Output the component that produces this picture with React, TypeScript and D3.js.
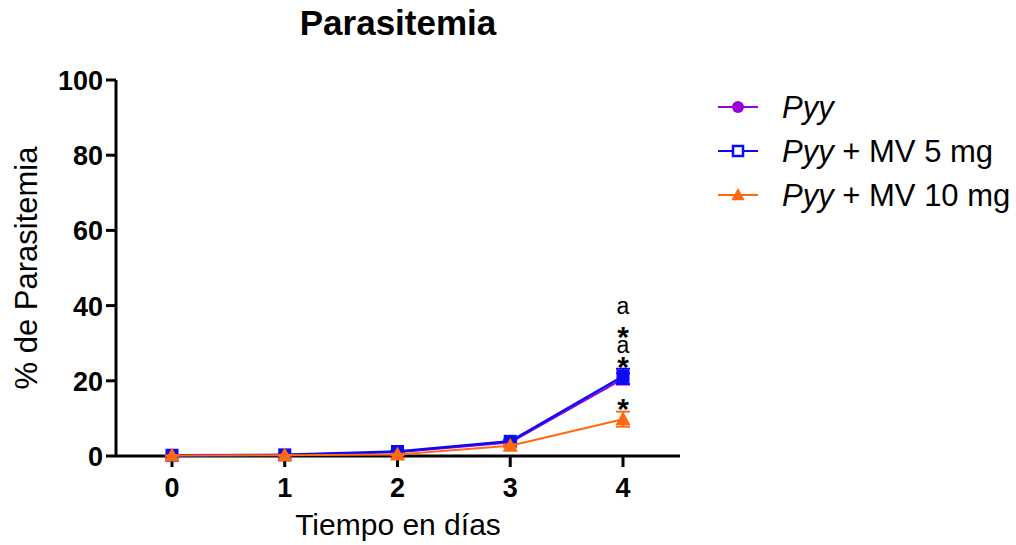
import React from "react";
import * as d3 from "d3";

const days = [0, 1, 2, 3, 4];
const pyy = [0.2, 0.3, 1.0, 3.6, 20.5];
const pyyErr = [0.1, 0.1, 0.3, 0.5, 1.5];
const mv5 = [0.2, 0.3, 1.2, 3.9, 21.2];
const mv5Err = [0.1, 0.1, 0.3, 0.5, 2.0];
const mv10 = [0.1, 0.2, 0.4, 2.7, 9.8];
const mv10Err = [0.05, 0.1, 0.2, 0.4, 2.0];
const yTicks = [0, 20, 40, 60, 80, 100];
// marks stacked above the 5 mg error bar at day 4, bottom to top
const annotations = ["*", "a", "*", "a"];

const PURPLE = "#9b00d9";
const BLUE = "#0a0af5";
const ORANGE = "#ff6a10";

export default function App() {
  const x = d3.scaleLinear().domain([0, 4]).range([172, 623]);
  const y = d3.scaleLinear().domain([0, 100]).range([456, 80]);
  const line = d3
    .line<number>()
    .x((_, i) => x(days[i]))
    .y((d) => y(d));
  const font = "Arial, 'Liberation Sans', sans-serif";

  const errBars = (vals: number[], errs: number[], color: string) =>
    vals.map((v, i) => (
      <g key={i} stroke={color} strokeWidth={2}>
        <line x1={x(days[i])} x2={x(days[i])} y1={y(v + errs[i])} y2={y(v - errs[i])} />
        <line x1={x(days[i]) - 7} x2={x(days[i]) + 7} y1={y(v + errs[i])} y2={y(v + errs[i])} />
        <line x1={x(days[i]) - 7} x2={x(days[i]) + 7} y1={y(v - errs[i])} y2={y(v - errs[i])} />
      </g>
    ));

  const tri = (cx: number, cy: number, s: number) =>
    `M${cx},${cy - s} L${cx + s * 0.95},${cy + s * 0.75} L${cx - s * 0.95},${cy + s * 0.75} Z`;

  const legendRows = [
    { color: PURPLE, shape: "circle", rest: "" },
    { color: BLUE, shape: "square", rest: " + MV 5 mg" },
    { color: ORANGE, shape: "triangle", rest: " + MV 10 mg" },
  ];

  const x4 = x(4);
  const top5 = y(mv5[4] + mv5Err[4]);
  const top10 = y(mv10[4] + mv10Err[4]);
  const starFs = 30;
  const aFs = 23;
  // centre of each mark relative to the error bar top
  const markCentre = [-9, -22, -39, -61];
  const baselineFor = (a: string, c: number) =>
    a === "*" ? c + 0.56 * starFs : c + 0.26 * aFs;

  return (
    <svg
      width={1016}
      height={545}
      style={{ position: "absolute", left: 0, top: 0, display: "block" }}
      fontFamily={font}
    >
      <text x={398} y={35} textAnchor="middle" fontSize={35} fontWeight="bold">
        Parasitemia
      </text>

      {/* axes */}
      <g stroke="#000" strokeWidth={3}>
        <line x1={116} x2={116} y1={y(100)} y2={y(0)} />
        <line x1={116} x2={680} y1={y(0)} y2={y(0)} />
        {yTicks.map((t) => (
          <line key={t} x1={106} x2={116} y1={y(t)} y2={y(t)} />
        ))}
        {days.map((d) => (
          <line key={d} x1={x(d)} x2={x(d)} y1={y(0)} y2={y(0) + 11} />
        ))}
      </g>
      {yTicks.map((t) => (
        <text key={t} x={103} y={y(t) + 10} textAnchor="end" fontSize={27} fontWeight="bold">
          {t}
        </text>
      ))}
      {days.map((d) => (
        <text key={d} x={x(d)} y={y(0) + 41} textAnchor="middle" fontSize={27} fontWeight="bold">
          {d}
        </text>
      ))}
      <text x={398} y={535} textAnchor="middle" fontSize={30}>
        Tiempo en días
      </text>
      <text transform={`translate(37,${y(50)}) rotate(-90)`} textAnchor="middle" fontSize={31}>
        % de Parasitemia
      </text>

      {/* series */}
      {errBars(pyy, pyyErr, PURPLE)}
      <path d={line(pyy) || ""} fill="none" stroke={PURPLE} strokeWidth={2} />
      {pyy.map((v, i) => (
        <circle key={i} cx={x(days[i])} cy={y(v)} r={6} fill={PURPLE} />
      ))}

      {errBars(mv5, mv5Err, BLUE)}
      <path d={line(mv5) || ""} fill="none" stroke={BLUE} strokeWidth={2.5} />
      {mv5.map((v, i) => (
        <rect key={i} x={x(days[i]) - 6.5} y={y(v) - 6.5} width={13} height={13} fill={BLUE} />
      ))}

      {errBars(mv10, mv10Err, ORANGE)}
      <path d={line(mv10) || ""} fill="none" stroke={ORANGE} strokeWidth={2} />
      {mv10.map((v, i) => (
        <path key={i} d={tri(x(days[i]), y(v), 8)} fill={ORANGE} />
      ))}

      {/* significance marks at day 4 */}
      <text x={x4} y={baselineFor("*", top10 - 9)} textAnchor="middle" fontSize={starFs} fontWeight="bold">
        *
      </text>
      {annotations.map((a, i) => (
        <text
          key={i}
          x={x4}
          y={baselineFor(a, top5 + markCentre[i])}
          textAnchor="middle"
          fontSize={a === "*" ? starFs : aFs}
          fontWeight={a === "*" ? "bold" : "normal"}
        >
          {a}
        </text>
      ))}

      {/* legend */}
      {legendRows.map((r, i) => {
        const cy = 107 + i * 44;
        return (
          <g key={i}>
            <line x1={718} x2={758} y1={cy} y2={cy} stroke={r.color} strokeWidth={2} />
            {r.shape === "circle" && <circle cx={738} cy={cy} r={6} fill={r.color} />}
            {r.shape === "square" && (
              <rect x={733} y={cy - 5} width={10} height={10} fill="#fff" stroke={r.color} strokeWidth={2.5} />
            )}
            {r.shape === "triangle" && <path d={tri(738, cy, 7)} fill={r.color} />}
            <text x={782} y={cy + 11} fontSize={31}>
              <tspan fontStyle="italic">Pyy</tspan>
              {r.rest}
            </text>
          </g>
        );
      })}
    </svg>
  );
}
